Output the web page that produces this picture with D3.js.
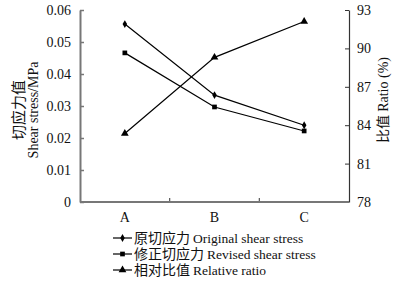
<!DOCTYPE html>
<html>
<head>
<meta charset="utf-8">
<script src="https://cdn.jsdelivr.net/npm/d3@7"></script>
<style>
  body { margin: 0; background: #fff; }
  svg { display: block; }
  text, tspan { font-family: "Liberation Serif", "Times New Roman", serif; fill: #111; }
  .cjk { font-family: "Noto Sans CJK SC", sans-serif; }
</style>
</head>
<body>
<svg id="chart" width="398" height="283"></svg>
<script>
// categories + series
const groups = ["A", "B", "C"];
const originalStress = [0.0556, 0.0334, 0.0240];
const revisedStress = [0.0466, 0.0297, 0.0222];
const relRatio = [83.35, 89.3, 92.1];
const leftTicks = [0, 0.01, 0.02, 0.03, 0.04, 0.05, 0.06];
const rightTicks = [78, 81, 84, 87, 90, 93];

const svg = d3.select('#chart'),
    margin = {top: 10, right: 49, bottom: 81, left: 80};
let width = 398 - margin.left - margin.right,
    height = 283 - margin.top - margin.bottom;

let g = svg.append("g").attr("transform", `translate(${margin.left},${margin.top})`);

let x = d3.scaleBand().domain(groups).range([0, width]);
let yL = d3.scaleLinear().domain([0, 0.06]).range([height, 0]);
let yR = d3.scaleLinear().domain([78, 93]).range([height, 0]);

const serif = "Liberation Serif, Times New Roman, serif";

// axes
let xAxis = g.append("g")
    .attr("transform", `translate(0,${height})`)
    .call(d3.axisBottom(x).tickSize(0).tickPadding(10));
xAxis.select(".domain").remove();
xAxis.selectAll("text").attr("font-size", 14).attr("font-family", serif);

// category separator ticks, pointing up
g.selectAll(".sep")
    .data(groups.slice(1))
    .enter().append("line")
    .attr("x1", d => x(d)).attr("x2", d => x(d))
    .attr("y1", height).attr("y2", height - 4)
    .attr("stroke", "#555").attr("stroke-width", 1.2);

let leftAxis = g.append("g")
    .call(d3.axisLeft(yL).tickValues(leftTicks).tickSize(-4).tickSizeOuter(0).tickPadding(9)
        .tickFormat(d => d === 0 ? "0" : d3.format(".2f")(d)));
leftAxis.select(".domain").attr("stroke", "#777").attr("stroke-width", 2);
leftAxis.selectAll(".tick line").attr("stroke", "#777").attr("stroke-width", 1.5);
leftAxis.selectAll("text").attr("font-size", 14).attr("font-family", serif);

let rightAxis = g.append("g")
    .attr("transform", `translate(${width},0)`)
    .call(d3.axisRight(yR).tickValues(rightTicks).tickSize(-4).tickSizeOuter(0).tickPadding(8));
rightAxis.select(".domain").attr("stroke", "#333").attr("stroke-width", 1.2);
rightAxis.selectAll(".tick line").attr("stroke", "#333");
rightAxis.selectAll("text").attr("font-size", 14).attr("font-family", serif);

// bottom axis line (gray)
g.append("line")
    .attr("x1", 0).attr("x2", width)
    .attr("y1", height).attr("y2", height)
    .attr("stroke", "#777").attr("stroke-width", 2);

// series
const series = [
    {name: "原切应力", en: "Original shear stress", vals: originalStress, y: yL, sym: d3.symbolDiamond, size: 18},
    {name: "修正切应力", en: "Revised shear stress", vals: revisedStress, y: yL, sym: d3.symbolSquare, size: 22},
    {name: "相对比值", en: "Relative ratio", vals: relRatio, y: yR, sym: d3.symbolTriangle, size: 26}
];

series.forEach(function(s){
    let pts = groups.map((c, i) => [x(c) + x.bandwidth() / 2, s.y(s.vals[i])]);
    g.append("path")
        .attr("d", d3.line()(pts))
        .attr("fill", "none")
        .attr("stroke", "#000")
        .attr("stroke-width", 1.2);
    g.selectAll(null)
        .data(pts)
        .enter().append("path")
        .attr("transform", d => `translate(${d[0]},${d[1]})`)
        .attr("d", d3.symbol().type(s.sym).size(s.size))
        .attr("fill", "#000");
});

// axis titles
svg.append("text")
    .attr("class", "cjk")
    .attr("transform", "translate(24,110) rotate(-90)")
    .attr("text-anchor", "middle")
    .attr("font-size", 15)
    .text("切应力值");
svg.append("text")
    .attr("transform", "translate(38,110) rotate(-90)")
    .attr("text-anchor", "middle")
    .attr("font-size", 14)
    .attr("font-family", serif)
    .text("Shear stress/MPa");

let rt = svg.append("text")
    .attr("transform", "translate(388,100) rotate(-90)")
    .attr("text-anchor", "middle")
    .attr("font-size", 14);
rt.append("tspan").attr("class", "cjk").text("比值 ");
rt.append("tspan").attr("font-family", serif).text("Ratio (%)");

// legend
let legend = svg.append("g");
series.forEach(function(s, i){
    let ly = 238 + i * 16;
    let row = legend.append("g").attr("transform", `translate(113,${ly})`);
    row.append("line").attr("x1", 0).attr("x2", 19).attr("y1", 0).attr("y2", 0)
        .attr("stroke", "#000").attr("stroke-width", 1.2);
    row.append("path").attr("transform", "translate(9.5,0)")
        .attr("d", d3.symbol().type(s.sym).size(s.size)).attr("fill", "#000");
    row.append("text").attr("class", "cjk").attr("x", 21).attr("y", 5).attr("font-size", 14)
        .text(s.name);
    row.append("text").attr("x", 21 + s.name.length * 14 + 3).attr("y", 5)
        .attr("font-size", 13.5).attr("font-family", serif)
        .text(s.en);
});
</script>
</body>
</html>
